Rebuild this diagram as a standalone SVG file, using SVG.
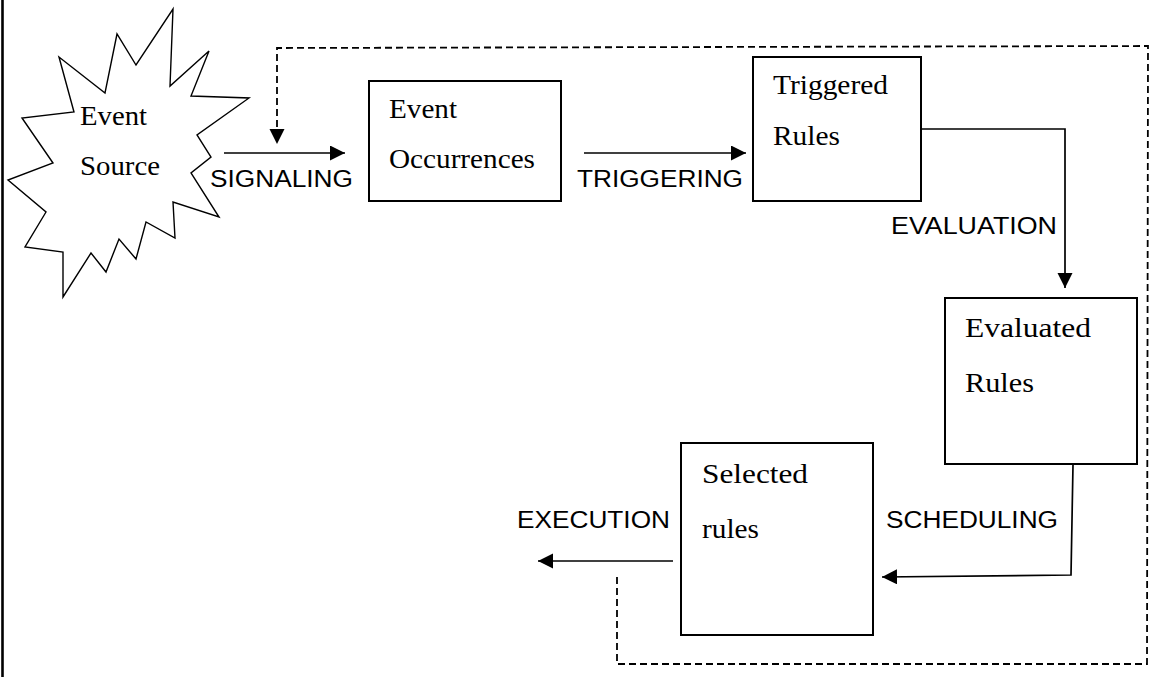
<svg xmlns="http://www.w3.org/2000/svg" width="1161" height="677" viewBox="0 0 1161 677">
<style>
.box{fill:#fff;stroke:#000;stroke-width:2}
.star{fill:#fff;stroke:#000;stroke-width:1.4;stroke-linejoin:miter}
.ser{font-family:"Liberation Serif","Times New Roman",serif;font-size:26.5px;fill:#000}
.lab{font-family:"Liberation Sans",Arial,sans-serif;font-size:23.5px;fill:#000}
.con{fill:none;stroke:#000;stroke-width:1.7}
.dash{fill:none;stroke:#000;stroke-width:1.8;stroke-dasharray:7 4}
</style>
<defs>
<marker id="ah" markerUnits="userSpaceOnUse" markerWidth="16" markerHeight="16" refX="15" refY="7.5" orient="auto">
<path d="M0,0 L15,7.5 L0,15 Z" fill="#000"/>
</marker>
</defs>
<rect width="1161" height="677" fill="#fff"/>
<line x1="2.5" y1="0" x2="2.5" y2="677" stroke="#000" stroke-width="2.6"/>

<g id="event-source">
<polygon class="star" points="173,9 170,86 209,51 191,96 249,98 197,135 211,157 191,173 219,217 173,202 175,238 146,222 136,259 119,239 106,272 91,253 63,297 63,252 25,247 46,212 8,180 53,163 22,118 74,112 59,57 105,93 117,34 136,65"/>
<text class="ser" x="80" y="125" textLength="67" lengthAdjust="spacingAndGlyphs">Event</text>
<text class="ser" x="80" y="175" textLength="80" lengthAdjust="spacingAndGlyphs">Source</text>
</g>

<g id="event-occurrences">
<rect class="box" x="369" y="81" width="192" height="120"/>
<text class="ser" x="389" y="118" textLength="68" lengthAdjust="spacingAndGlyphs">Event</text>
<text class="ser" x="389" y="168" textLength="146" lengthAdjust="spacingAndGlyphs">Occurrences</text>
</g>

<g id="triggered-rules">
<rect class="box" x="753" y="57" width="168" height="144"/>
<text class="ser" x="773" y="94" textLength="115" lengthAdjust="spacingAndGlyphs">Triggered</text>
<text class="ser" x="773" y="145" textLength="67" lengthAdjust="spacingAndGlyphs">Rules</text>
</g>

<g id="evaluated-rules">
<rect class="box" x="945" y="298" width="192" height="166"/>
<text class="ser" x="965" y="337" textLength="126" lengthAdjust="spacingAndGlyphs">Evaluated</text>
<text class="ser" x="965" y="392" textLength="69" lengthAdjust="spacingAndGlyphs">Rules</text>
</g>

<g id="selected-rules">
<rect class="box" x="681" y="443" width="192" height="192"/>
<text class="ser" x="702" y="483" textLength="106" lengthAdjust="spacingAndGlyphs">Selected</text>
<text class="ser" x="702" y="538" textLength="57" lengthAdjust="spacingAndGlyphs">rules</text>
</g>

<g id="connectors">
<path class="con" d="M224,153 H345" marker-end="url(#ah)"/>
<path class="con" d="M584,153 H746" marker-end="url(#ah)"/>
<path class="con" d="M921,129 H1065 V288" marker-end="url(#ah)"/>
<path class="con" d="M1073,465 L1071,575 L882,577" marker-end="url(#ah)"/>
<path class="con" d="M673,561 H538" marker-end="url(#ah)"/>
<path class="dash" d="M617,577 V664 H1147 L1148,46 L277,48 V130"/>
<path d="M269.5,129 L284.5,129 L277,144 Z" fill="#000"/>
<text class="lab" x="210" y="187" textLength="143" lengthAdjust="spacingAndGlyphs">SIGNALING</text>
<text class="lab" x="577" y="187" textLength="166" lengthAdjust="spacingAndGlyphs">TRIGGERING</text>
<text class="lab" x="891" y="234" textLength="166" lengthAdjust="spacingAndGlyphs">EVALUATION</text>
<text class="lab" x="886" y="528" textLength="172" lengthAdjust="spacingAndGlyphs">SCHEDULING</text>
<text class="lab" x="517" y="528" textLength="153" lengthAdjust="spacingAndGlyphs">EXECUTION</text>
</g>
</svg>
